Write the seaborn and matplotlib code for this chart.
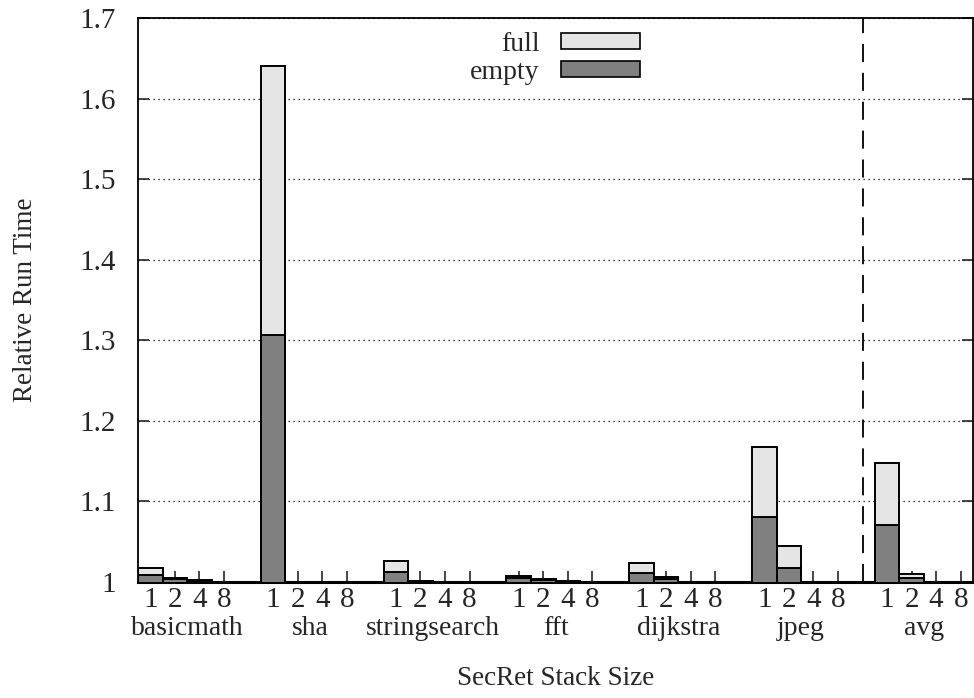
import matplotlib
matplotlib.use("Agg")
import matplotlib.pyplot as plt
from matplotlib.patches import Patch
import numpy as np
import pandas as pd
import seaborn as sns

# Benchmarks and SecRet stack sizes
benchmarks = ["basicmath", "sha", "stringsearch", "fft", "dijkstra", "jpeg", "avg"]
stack_sizes = ["1", "2", "4", "8"]

# Relative run time, stack full (total height) and stack empty (lower part)
full_time = [
    [1.0174, 1.0050, 1.0020, 1.0000],   # basicmath
    [1.6400, 1.0000, 1.0000, 1.0000],   # sha
    [1.0257, 1.0004, 1.0000, 1.0000],   # stringsearch
    [1.0075, 1.0033, 1.0005, 1.0000],   # fft
    [1.0232, 1.0058, 1.0003, 1.0000],   # dijkstra
    [1.1675, 1.0440, 1.0000, 1.0000],   # jpeg
    [1.1473, 1.0092, 1.0003, 1.0000],   # avg
]
empty_time = [
    [1.0083, 1.0030, 1.0010, 1.0000],
    [1.3070, 1.0000, 1.0000, 1.0000],
    [1.0117, 1.0002, 1.0000, 1.0000],
    [1.0042, 1.0020, 1.0003, 1.0000],
    [1.0108, 1.0035, 1.0002, 1.0000],
    [1.0800, 1.0174, 1.0000, 1.0000],
    [1.0701, 1.0045, 1.0002, 1.0000],
]

y_ticks = [1.0, 1.1, 1.2, 1.3, 1.4, 1.5, 1.6, 1.7]
y_tick_labels = ["1", "1.1", "1.2", "1.3", "1.4", "1.5", "1.6", "1.7"]

# Each benchmark takes 4 bar slots plus one spacer slot
slot = 5
rows = []
for g, name in enumerate(benchmarks):
    for i, s in enumerate(stack_sizes):
        rows.append({"pos": g * slot + i, "benchmark": name, "size": s,
                     "full": full_time[g][i], "empty": empty_time[g][i]})
df = pd.DataFrame(rows)

sns.set_style("white")
plt.rcParams["font.family"] = ["Liberation Serif", "DejaVu Serif"]

fig = plt.figure(figsize=(9.74, 6.98), dpi=100)
ax = fig.add_axes([0.1417, 0.1665, 0.8573, 0.8075])

full_color = "#e5e5e5"
empty_color = "#808080"

ax.yaxis.grid(True, linestyle=(0, (1, 3)), color="black", linewidth=0.9)
ax.set_axisbelow(True)

sns.barplot(data=df, x="pos", y="full", native_scale=True, width=1.0,
            color=full_color, saturation=1, edgecolor="black", linewidth=1.4,
            errorbar=None, ax=ax, zorder=2)
sns.barplot(data=df, x="pos", y="empty", native_scale=True, width=1.0,
            color=empty_color, saturation=1, edgecolor="black", linewidth=1.4,
            errorbar=None, ax=ax, zorder=3)

n_slots = len(benchmarks) * slot - 1
ax.set_xlim(-0.5, n_slots - 0.5)
ax.set_ylim(1.0, 1.7)

# Separator before the average group
ax.axvline((len(benchmarks) - 1) * slot - 1, color="black", linewidth=1.3,
           linestyle=(0, (10, 6)), zorder=4)

ax.set_xticks(df["pos"])
ax.set_xticklabels(df["size"], fontsize=21)
ax.set_yticks(y_ticks)
ax.set_yticklabels(y_tick_labels, fontsize=21)
ax.tick_params(axis="x", direction="in", length=8, width=1.2, pad=4,
               bottom=True, top=False)
ax.tick_params(axis="y", direction="in", length=8, width=1.2, pad=16,
               left=True, right=True)

for sp in ax.spines.values():
    sp.set_visible(True)
    sp.set_color("black")
    sp.set_linewidth(1.3)
ax.spines["bottom"].set_linewidth(2.2)

# Benchmark names under each group of stack sizes
trans = matplotlib.transforms.blended_transform_factory(ax.transData, ax.transAxes)
for g, name in enumerate(benchmarks):
    ax.text(g * slot + 1.5, -0.082, name, transform=trans, ha="center",
            va="center", fontsize=20)

ax.set_xlabel("SecRet Stack Size", fontsize=19.5, labelpad=38)
ax.set_ylabel("Relative Run Time", fontsize=19.5, labelpad=30)

handles = [Patch(facecolor=full_color, edgecolor="black", linewidth=1.2, label="full"),
           Patch(facecolor=empty_color, edgecolor="black", linewidth=1.2, label="empty")]
leg = ax.legend(handles=handles, loc="upper left", bbox_to_anchor=(0.378, 1.005),
                frameon=False, markerfirst=False, fontsize=20,
                handlelength=2.85, handleheight=0.5, labelspacing=0.1,
                handletextpad=0.75, borderaxespad=0.2)
for t in leg.get_texts():
    t.set_ha("right")

fig.savefig("out.png", dpi=100)
